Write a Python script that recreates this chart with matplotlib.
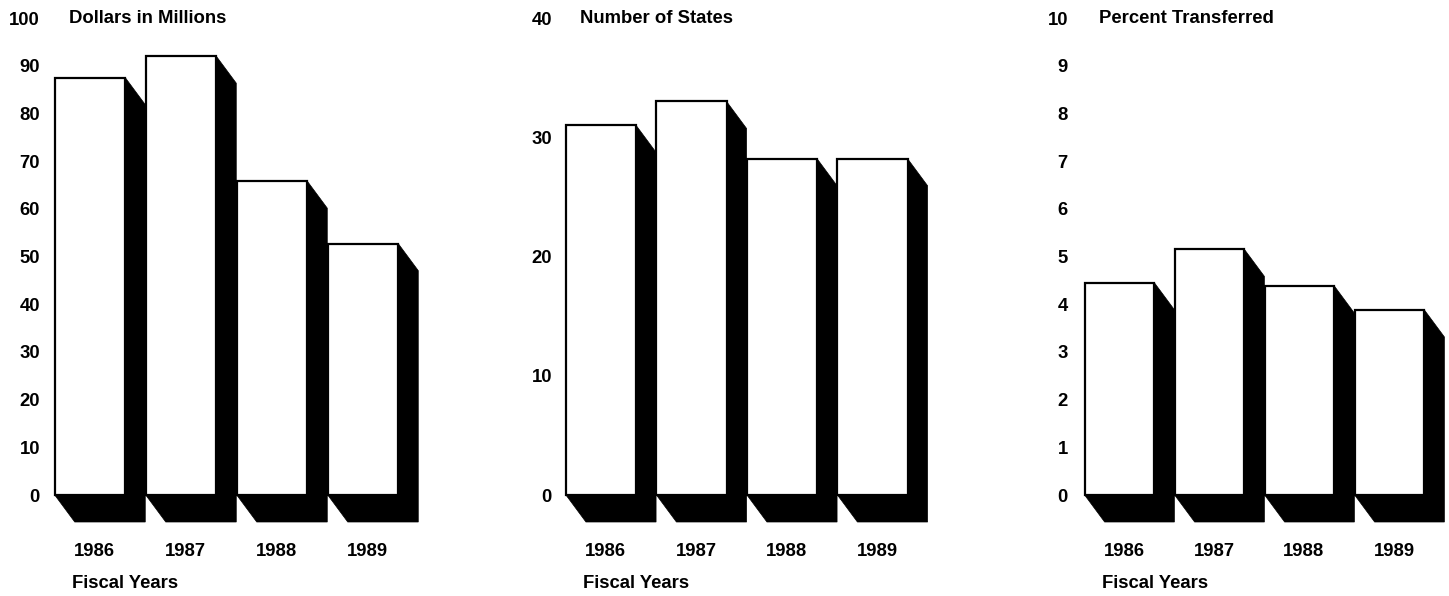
import numpy as np
import matplotlib
matplotlib.use('Agg')
import matplotlib.pyplot as plt
from matplotlib.patches import Polygon

plt.rcParams['font.family'] = ['Liberation Sans', 'DejaVu Sans']
plt.rcParams['font.weight'] = 'bold'

# data
years = ['1986', '1987', '1988', '1989']
dollars = [87.5, 92, 65.8, 52.7]
states = [31, 33, 28.2, 28.2]
percent = [4.45, 5.15, 4.38, 3.88]

titles = ['Dollars in Millions', 'Number of States', 'Percent Transferred']
tops = [100, 40, 10]
steps = [10, 10, 1]

W, H = 1449, 596
fig = plt.figure(figsize=(W / 100, H / 100), dpi=100)

# layout in pixels: first bar centre, bar spacing, right edge of y labels
layout = [(90, 91, 40), (601, 90.5, 552), (1119.5, 90, 1068)]
y0_px, ytop_px = 495, 18
bar_w = 0.775
fs = 13.3

for k, vals in enumerate([dollars, states, percent]):
    c0, sp, lab_r = layout[k]
    top = tops[k]
    lo, hi = -0.45, 3.75
    ppu = (y0_px - ytop_px) / top          # pixels per y unit
    ylo, yhi = -33 / ppu, top + 10 / ppu
    left = c0 + lo * sp
    bottom = y0_px + (0 - ylo) * ppu
    ax = fig.add_axes([left / W, 1 - bottom / H, (hi - lo) * sp / W,
                       (yhi - ylo) * ppu / H])
    ax.set_xlim(lo, hi)
    ax.set_ylim(ylo, yhi)
    for s in ax.spines.values():
        s.set_visible(False)

    # shadow offset: ~20 px right, ~27 px down
    dx = 20 / sp
    dy = 27 / ppu
    x = np.arange(len(vals))
    for xi, v in zip(x, vals):
        x0, x1 = xi - bar_w / 2, xi + bar_w / 2
        sh = Polygon([(x0, v), (x1, v), (x1 + dx, v - dy), (x1 + dx, -dy),
                      (x0 + dx, -dy), (x0, 0)], closed=True,
                     facecolor='black', edgecolor='black', lw=0.5, zorder=1)
        ax.add_patch(sh)
    ax.bar(x, vals, width=bar_w, color='white', edgecolor='black',
           linewidth=1.6, zorder=2)

    yt = np.arange(0, top + steps[k] / 2, steps[k])
    ax.set_yticks(yt)
    ax.set_yticklabels([f'{t:g}' for t in yt], fontsize=fs, fontweight='bold')
    ax.tick_params(axis='y', length=0, pad=(left - lab_r) * 0.72)
    ax.set_xticks(x + 0.05)
    ax.set_xticklabels(years, fontsize=fs, fontweight='bold')
    ax.tick_params(axis='x', length=0, pad=11)

    ax.text(-0.23, top, titles[k], fontsize=fs, fontweight='bold',
            ha='left', va='center')
    ax.annotate('Fiscal Years', xy=(-0.2, 0), xycoords=('data', 'axes fraction'),
                xytext=(0, -55), textcoords='offset pixels',
                fontsize=fs, fontweight='bold', ha='left', va='center')

fig.savefig('out.png', dpi=100)
